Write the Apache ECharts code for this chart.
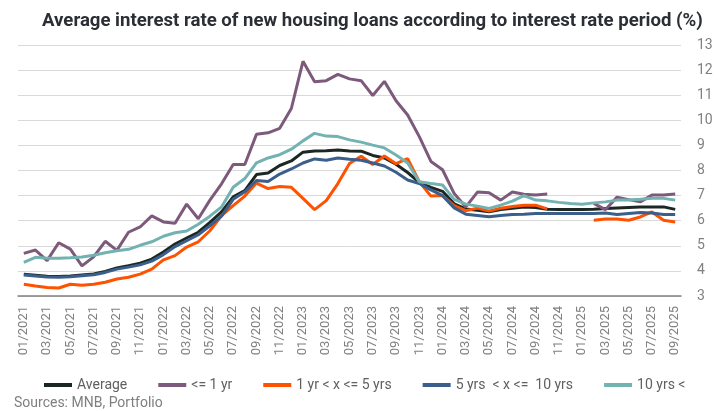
<!DOCTYPE html>
<html>
<head>
<meta charset="utf-8">
<script src="https://cdn.jsdelivr.net/npm/echarts@6/dist/echarts.min.js"></script>
<style>
html,body{margin:0;padding:0;background:#fff;}
#chart{width:718px;height:411px;}
</style>
</head>
<body>
<div id="chart"></div>
<script>
// Months 01/2021 .. 09/2025
const categories = [];
for (let y = 2021; y <= 2025; y++) {
  for (let m = 1; m <= 12; m++) {
    if (y === 2025 && m > 9) break;
    categories.push((m < 10 ? '0' + m : '' + m) + '/' + y);
  }
}

const seriesNames = ['Average', '<= 1 yr', '1 yr < x <= 5 yrs', '5 yrs  < x <=  10 yrs', '10 yrs <'];

const average = [3.87,3.83,3.79,3.78,3.80,3.84,3.88,3.98,4.12,4.21,4.31,4.47,4.75,5.07,5.31,5.54,5.93,6.35,6.95,7.20,
  7.84,7.90,8.20,8.38,8.73,8.78,8.79,8.82,8.78,8.77,8.60,8.50,8.25,7.92,7.53,7.33,7.17,6.67,6.47,6.42,
  6.36,6.45,6.50,6.55,6.53,6.46,6.45,6.45,6.45,6.46,6.49,6.51,6.53,6.55,6.55,6.55,6.45];

const upTo1y = [4.70,4.83,4.41,5.12,4.87,4.20,4.56,5.18,4.82,5.54,5.75,6.19,5.95,5.90,6.66,6.08,6.82,7.47,8.24,8.24,
  9.44,9.50,9.68,10.47,12.35,11.54,11.58,11.83,11.65,11.58,10.99,11.55,10.78,10.21,9.35,8.36,8.03,7.08,6.55,7.14,
  7.11,6.82,7.14,7.05,7.02,7.06,null,null,null,6.69,6.44,6.94,6.84,6.75,7.02,7.02,7.06];

const y1to5 = [3.47,3.40,3.34,3.32,3.47,3.43,3.47,3.55,3.68,3.75,3.87,4.07,4.44,4.61,4.95,5.16,5.60,6.20,6.60,6.98,
  7.50,7.28,7.36,7.33,6.89,6.44,6.80,7.48,8.28,8.57,8.24,8.58,8.27,8.47,7.55,6.98,7.00,6.60,6.40,6.50,
  6.38,6.50,6.57,6.62,6.62,6.47,null,null,null,6.02,6.07,6.07,6.02,6.15,6.35,6.02,5.95];

const y5to10 = [3.84,3.80,3.76,3.75,3.77,3.81,3.85,3.94,4.07,4.15,4.24,4.39,4.65,4.97,5.20,5.44,5.80,6.18,6.85,7.15,
  7.60,7.56,7.86,8.06,8.30,8.46,8.41,8.50,8.45,8.41,8.30,8.18,7.93,7.62,7.48,7.23,7.00,6.51,6.26,6.21,
  6.16,6.21,6.25,6.26,6.29,6.29,6.29,6.29,6.29,6.29,6.31,6.25,6.29,6.33,6.31,6.25,6.25];

const over10y = [4.34,4.54,4.50,4.50,4.52,4.55,4.62,4.72,4.80,4.86,5.02,5.16,5.38,5.52,5.59,5.86,6.18,6.55,7.33,7.68,
  8.30,8.50,8.63,8.85,9.18,9.48,9.37,9.35,9.22,9.13,9.01,8.90,8.62,8.30,7.55,7.48,7.42,6.85,6.66,6.58,
  6.49,6.62,6.78,7.00,6.82,6.79,6.73,6.69,6.66,6.71,6.75,6.82,6.82,6.85,6.89,6.89,6.82];

const colors = ['#1c2723', '#7d5a7b', '#ff5200', '#3a5f8b', '#72b2b1'];
const dataList = [average, upTo1y, y1to5, y5to10, over10y];

const chart = echarts.init(document.getElementById('chart'), null, {renderer: 'canvas'});
const FONT = 'Roboto';

chart.setOption({
  animation: false,
  backgroundColor: '#ffffff',
  title: [
    {
      text: 'Average interest rate of new housing loans according to interest rate period (%)',
      left: 37,
      top: 7,
      textStyle: {fontFamily: FONT, fontSize: 18.6, fontWeight: 'bold', color: '#2b2e35'}
    },
    {
      text: 'Sources: MNB, Portfolio',
      left: 9,
      top: 391,
      textStyle: {fontFamily: FONT, fontSize: 14, fontWeight: 'normal', color: '#7f7f7f'}
    }
  ],
  legend: {
    left: 39,
    top: 373,
    itemWidth: 28,
    itemHeight: 4,
    itemGap: 31,
    icon: 'rect',
    textStyle: {fontFamily: FONT, fontSize: 14, color: '#606060'},
    data: seriesNames
  },
  grid: {left: 18, right: 37, top: 45, bottom: 115, containLabel: false},
  xAxis: {
    type: 'category',
    data: categories,
    boundaryGap: true,
    axisLine: {lineStyle: {color: '#808080', width: 1.5}},
    axisTick: {show: false},
    axisLabel: {
      interval: 1,
      rotate: 90,
      margin: 10,
      fontFamily: FONT,
      fontSize: 13,
      color: '#808080'
    },
    splitLine: {show: false}
  },
  yAxis: {
    type: 'value',
    position: 'right',
    min: 3,
    max: 13,
    interval: 1,
    axisLine: {show: false},
    axisTick: {show: false},
    axisLabel: {fontFamily: FONT, fontSize: 14, color: '#808080', margin: 16, align: 'left'},
    splitLine: {lineStyle: {color: '#d9d9d9', width: 1}}
  },
  series: seriesNames.map((name, k) => ({
    name: name,
    type: 'line',
    data: dataList[k],
    showSymbol: false,
    symbol: 'none',
    connectNulls: false,
    lineStyle: {color: colors[k], width: 3},
    itemStyle: {color: colors[k]},
    emphasis: {disabled: true}
  }))
});
</script>
</body>
</html>
